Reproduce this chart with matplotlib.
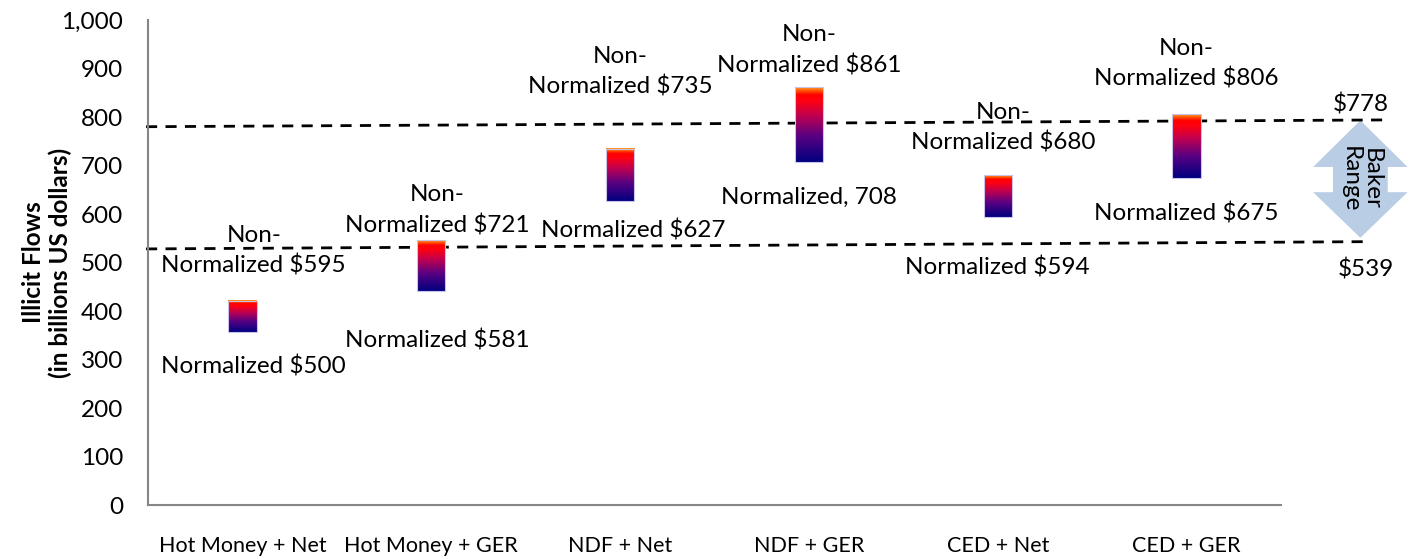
import matplotlib.pyplot as plt
import numpy as np
from matplotlib.colors import LinearSegmentedColormap
from matplotlib.patches import Polygon

plt.rcParams['font.family'] = ['Lato', 'DejaVu Sans']

# Dados do gráfico
categorias = ["Hot Money + Net", "Hot Money + GER", "NDF + Net", "NDF + GER", "CED + Net", "CED + GER"]
barra_baixo = [357, 441, 627, 708, 594, 675]
barra_alto = [421, 546, 735, 861, 680, 806]

rotulos_nao_norm = ["Non-\nNormalized $595", "Non-\nNormalized $721", "Non-\nNormalized $735",
                    "Non-\nNormalized $861", "Non-\nNormalized $680", "Non-\nNormalized $806"]
rotulos_norm = ["Normalized $500", "Normalized $581", "Normalized $627",
                "Normalized, 708", "Normalized $594", "Normalized $675"]
# posição dos rótulos (x da categoria, y em bilhões)
nao_norm_x = [0.06, 1.03, 2.0, 3.0, 4.03, 5.0]
nao_norm_y = [524, 608, 893, 938, 778, 910]
norm_x = [0.06, 1.03, 2.07, 3.0, 4.0, 5.0]
norm_y = [285, 340, 565, 635, 489, 602]

# faixa Baker
baker_alto = 778
baker_baixo = 539

# Gradiente azul -> vermelho -> laranja
gradiente = LinearSegmentedColormap.from_list("grad", [
    (0.0, "#000080"), (0.35, "#5a0082"), (0.62, "#c00050"),
    (0.82, "#ff0010"), (0.9, "#ff0000"), (0.94, "#ff4000"), (1.0, "#ff9a20")])

fig = plt.figure(figsize=(14.13, 5.59), dpi=100)
ax = fig.add_axes([0.1047, 0.0966, 0.8019, 0.8676])

largura = 0.15
grad = np.linspace(0, 1, 256).reshape(-1, 1)
for i in range(len(categorias)):
    ax.imshow(grad, cmap=gradiente, origin='lower', aspect='auto',
              extent=[i - largura / 2, i + largura / 2, barra_baixo[i], barra_alto[i]], zorder=3)
    ax.bar(i, barra_alto[i] - barra_baixo[i], bottom=barra_baixo[i], width=largura,
           facecolor='none', edgecolor='#c9c3ea', linewidth=0.8, zorder=4)

for i in range(len(categorias)):
    ax.text(nao_norm_x[i], nao_norm_y[i], rotulos_nao_norm[i], ha='center', va='center',
            fontsize=17.5, linespacing=1.5, zorder=5)
    ax.text(norm_x[i], norm_y[i], rotulos_norm[i], ha='center', va='center', fontsize=17.5, zorder=5)

# linhas tracejadas da faixa Baker (levemente inclinadas como no original)
ax.plot([-0.51, 6.06], [780, 794], ls=(0, (4, 3)), color='black', lw=2, clip_on=False, zorder=2)
ax.plot([-0.51, 5.96], [528, 543], ls=(0, (4, 3)), color='black', lw=2, clip_on=False, zorder=2)
ax.text(5.92, 826, "$" + str(baker_alto), ha='center', va='center', fontsize=17.5, clip_on=False)
ax.text(5.95, 485, "$" + str(baker_baixo), ha='center', va='center', fontsize=17.5, clip_on=False)

# seta dupla
cx, hw, sw = 5.92, 0.25, 0.145
seta = Polygon([[cx, 793], [cx + hw, 697], [cx + sw, 697], [cx + sw, 645], [cx + hw, 645],
                [cx, 551], [cx - hw, 645], [cx - sw, 645], [cx - sw, 697], [cx - hw, 697]],
               closed=True, facecolor='#b9cde5', edgecolor='none', clip_on=False, zorder=1)
ax.add_patch(seta)
ax.text(cx, 672, "Baker\nRange", rotation=-90, ha='center', va='center', fontsize=17.5,
        linespacing=1.0, clip_on=False)

ax.set_xlim(-0.5, 5.5)
ax.set_ylim(0, 1000)
ax.set_yticks(range(0, 1001, 100))
ax.set_yticklabels(["{:,}".format(v) for v in range(0, 1001, 100)], fontsize=17.5)
ax.set_xticks(range(len(categorias)))
ax.set_xticklabels(categorias, fontsize=15.5)
ax.tick_params(axis='y', length=0, pad=18)
ax.tick_params(axis='x', length=0, pad=22)
ax.set_ylabel("Illicit Flows\n(in billions US dollars)", fontsize=17.5, fontweight='bold')
ax.yaxis.set_label_coords(-0.067, 0.5)

for lado in ['top', 'right']:
    ax.spines[lado].set_visible(False)
for lado in ['left', 'bottom']:
    ax.spines[lado].set_color('#868686')
    ax.spines[lado].set_linewidth(1.5)

plt.savefig('out.png', dpi=100)
